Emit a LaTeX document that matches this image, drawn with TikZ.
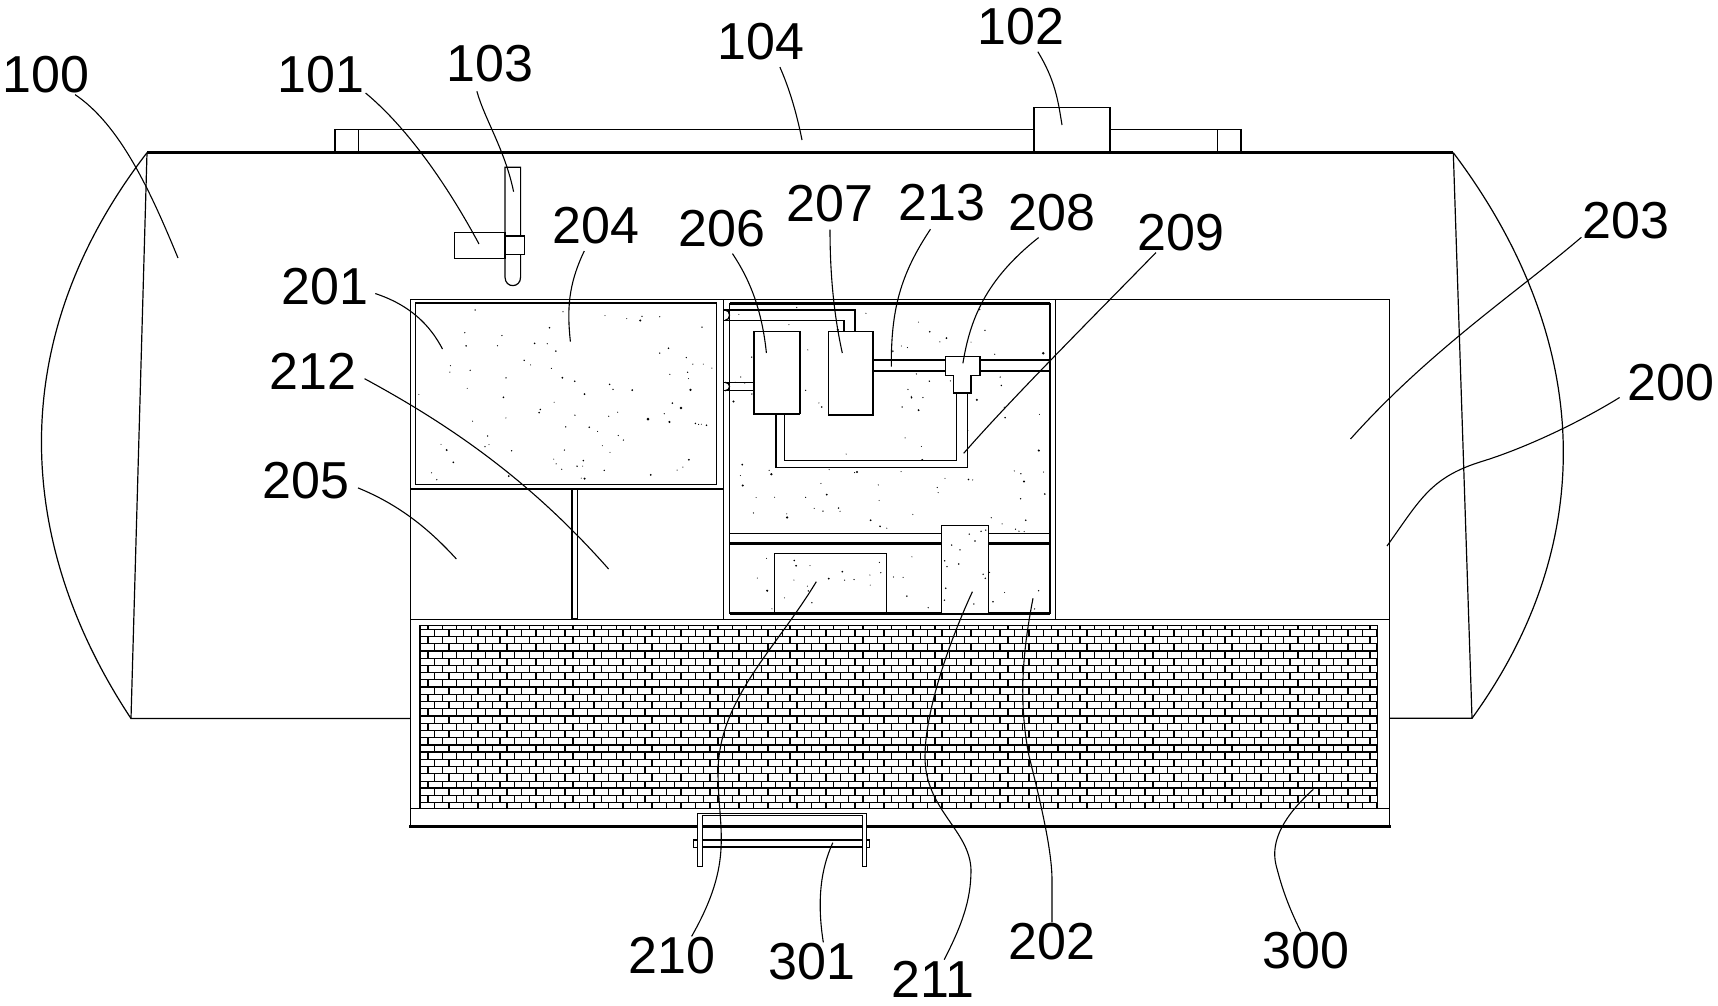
\documentclass[tikz,border=0pt]{standalone}
\usepackage{fontspec}
\setmainfont{Liberation Sans}
\tikzset{
  partline/.style={line width=1.2pt},
  heavyline/.style={line width=2.6pt},
  brickline/.style={line width=1.05pt},
  whitebox/.style={partline,fill=white},
  leader/.style={line width=1.1pt},
  numlabel/.style={inner sep=1pt,font=\fontsize{52}{52}\selectfont},
  speck/.style={fill=black}
}
\begin{document}
\begin{tikzpicture}[x=1pt,y=-1pt]
   \useasboundingbox (0,0) rectangle (1718,1006);
   % Tank with domed ends
   \draw [heavyline] (147,152.7) -- (1453.3,152.7);
   \draw [partline] (147,152.7) -- (131,718.5) -- (410.4,718.5);
   \draw [partline] (1453.3,152.7) -- (1472,718.3) -- (1389.3,718.3);
   \draw [partline] (147,152.7) .. controls (5,337) and (13,540) .. (131,718.5);
   \draw [partline] (1453.3,152.7) .. controls (1592,337) and (1601,540) .. (1472,718.3);
   % Rail on the roof
   \draw [partline] (335,129.3) -- (1034,129.3);
   \draw [partline] (1110,129.3) -- (1241,129.3);
   \draw [heavyline] (335,152.7) -- (335,129.3);
   \draw [partline] (358.3,129.3) -- (358.3,152.7);
   \draw [partline] (1217.7,129.3) -- (1217.7,152.7);
   \draw [line width=1.6pt] (1241,129.3) -- (1241,152.7);
   \draw [partline] (1034,152.7) -- (1034,107.7) -- (1110,107.7) -- (1110,152.7);
   % Dipstick and its head
   \draw [partline] (505,167.3) -- (520.6,167.3) -- (520.6,277) .. controls (520.6,288.5) and (505,288.5) .. (505,277) -- cycle;
   \draw [whitebox] (454.6,232.3) rectangle (505,258.3);
   \draw [whitebox] (505,236) rectangle (524.5,254.7);
   % Speckled fill, before the parts that stay white
   \pgfmathsetseed{4217}
   \foreach \i in {1,...,90} {
      \pgfmathsetmacro{\px}{418+296*rnd}
      \pgfmathsetmacro{\py}{306+176*rnd}
      \pgfmathsetmacro{\pr}{0.5+1.0*rnd*rnd}
      \fill [speck] (\px,\py) circle [radius=\pr];
   }
   \foreach \i in {1,...,115} {
      \pgfmathsetmacro{\px}{732+316*rnd}
      \pgfmathsetmacro{\py}{306+226*rnd}
      \pgfmathsetmacro{\pr}{0.5+1.0*rnd*rnd}
      \fill [speck] (\px,\py) circle [radius=\pr];
   }
   \foreach \i in {1,...,32} {
      \pgfmathsetmacro{\px}{732+316*rnd}
      \pgfmathsetmacro{\py}{546+65*rnd}
      \pgfmathsetmacro{\pr}{0.5+0.7*rnd*rnd}
      \fill [speck] (\px,\py) circle [radius=\pr];
   }
   % Compartment walls
   \draw [partline] (410.4,299.3) -- (1389.3,299.3) -- (1389.3,826.7);
   \draw [partline] (410.4,299.3) -- (410.4,826.7);
   \draw [partline] (723.4,299.3) -- (723.4,619.3);
   \draw [partline] (1055.7,299.3) -- (1055.7,619.3);
   \draw [partline] (410.4,619.3) -- (1389.3,619.3);
   \draw [partline] (410.4,489) -- (723.4,489);
   \draw [partline] (410.4,808.4) -- (1389.3,808.4);
   \draw [heavyline] (409.2,826.7) -- (1390.6,826.7);
   % Upper tank, left
   \draw [partline] (415.6,302.7) rectangle (716.6,484.7);
   \draw [line width=2pt] (415.6,302.7) -- (716.6,302.7);
   \draw [partline] (571.7,489) rectangle (577.4,618.7);
   \draw [line width=2pt] (571.7,489) -- (571.7,618.7);
   % Equipment room
   \draw [partline] (729.5,303.7) rectangle (1050,613.3);
   \draw [heavyline] (729.5,303.7) -- (1050,303.7);
   \draw [line width=2pt] (1050,303.7) -- (1050,613.3);
   \draw [heavyline] (729.5,613.3) -- (1050,613.3);
   \draw [partline] (729.5,533.3) -- (1050,533.3);
   \draw [heavyline] (729.5,543.3) -- (1050,543.3);
   % Pipes round the two units
   \filldraw [whitebox] (776,414.3) -- (776,467.3) -- (967.2,467.3) -- (967.2,393) -- (956.4,393) -- (956.4,460.3) -- (784.2,460.3) -- (784.2,414.3) -- cycle;
   \filldraw [whitebox] (873,360) rectangle (1050,371);
   \draw [heavyline] (873,360) -- (1050,360);
   \draw [partline] (723.4,320.3) -- (844.3,320.3);
   \draw [line width=2pt] (844.3,320.3) -- (844.3,331.3);
   \draw [line width=2pt] (723.4,309.7) -- (855.3,309.7) -- (855.3,331.3);
   \draw [partline] (723.4,382.3) -- (754,382.3);
   \draw [partline] (723.4,390.7) -- (754,390.7);
   \draw [partline] (725,310) .. controls (731,310) and (731,320.3) .. (725,320.3);
   \draw [partline] (725,382.3) .. controls (731,382.3) and (731,390.7) .. (725,390.7);
   \filldraw [whitebox] (754,331.3) rectangle (799.7,414.3);
   \draw [line width=2pt] (754,331.3) -- (754,414.3);
   \draw [line width=2pt] (799.7,331.3) -- (799.7,414.3);
   \draw [line width=2pt] (754,414.3) -- (799.7,414.3);
   \filldraw [whitebox] (828.4,331.3) rectangle (873,415);
   \draw [heavyline] (828.4,415) -- (873,415);
   \filldraw [whitebox] (945.5,356.3) -- (980,356.3) -- (980,375.3) -- (971,375.3) -- (971,393) -- (953.3,393) -- (953.3,375.3) -- (945.5,375.3) -- cycle;
   \draw [heavyline] (953.3,393) -- (971,393);
   % Lower units
   \draw [partline] (774.2,553.3) rectangle (886.6,612.3);
   \filldraw [whitebox] (941.2,525.3) rectangle (988.5,613.3);
   \pgfmathsetseed{905}
   \foreach \i in {1,...,14} {
      \pgfmathsetmacro{\px}{943+43*rnd}
      \pgfmathsetmacro{\py}{528+82*rnd}
      \fill [speck] (\px,\py) circle [radius=0.8];
   }
   % Brick lining
   \draw [partline] (420,625.3) rectangle (1377.7,808.4);
   \foreach \k in {0,...,24} {
      \draw [brickline] (420,{629.3+7.23*\k}) -- (1377.7,{629.3+7.23*\k});
   }
   \foreach \k in {3,8,12,17,22} {
      \draw [line width=1.8pt] (420,{629.3+7.23*\k}) -- (1377.7,{629.3+7.23*\k});
   }
   \foreach \k in {0,2,...,24} {
      \foreach \c in {0,...,65} {
         \pgfmathsetmacro{\bx}{434.5+14.5*\c}
         \pgfmathsetmacro{\bw}{ifthenelse(mod(\c,2)==0,1.9,1.05)}
         \draw [line width=\bw pt] (\bx,{629.3+7.23*\k}) -- (\bx,{min(808.4,629.3+7.23*(\k+1))});
      }
   }
   \foreach \k in {-1,1,...,23} {
      \foreach \c in {0,...,65} {
         \pgfmathsetmacro{\bx}{427.7+14.5*\c}
         \pgfmathsetmacro{\bw}{ifthenelse(mod(\c,5)==0,1.9,1.05)}
         \draw [line width=\bw pt] (\bx,{max(625.3,629.3+7.23*\k)}) -- (\bx,{629.3+7.23*(\k+1)});
      }
   }
   % Handle under the floor
   \draw [whitebox] (697.5,813.3) -- (866.6,813.3) -- (866.6,866.3) -- (862.3,866.3) -- (862.3,815.5) -- (702.3,815.5) -- (702.3,866.3) -- (697.5,866.3) -- cycle;
   \draw [heavyline] (702.3,840) -- (862.3,840);
   \draw [heavyline] (702.3,847) -- (862.3,847);
   \draw [partline] (697.5,840) -- (693.6,840) -- (693.6,847.3) -- (697.5,847.3);
   \draw [partline] (866.6,840) -- (869.8,840) -- (869.8,847.3) -- (866.6,847.3);
   % Reference numbers
   \node [numlabel] (l100) at (46,75) {100};
   \node [numlabel] (l101) at (321,75) {101};
   \node [numlabel] (l103) at (490,64) {103};
   \node [numlabel] (l104) at (761,42) {104};
   \node [numlabel] (l102) at (1021,27) {102};
   \node [numlabel] (l204) at (596,226) {204};
   \node [numlabel] (l206) at (722,229) {206};
   \node [numlabel] (l207) at (830,204) {207};
   \node [numlabel] (l213) at (942,203) {213};
   \node [numlabel] (l208) at (1052,213) {208};
   \node [numlabel] (l209) at (1181,233) {209};
   \node [numlabel] (l203) at (1626,221) {203};
   \node [numlabel] (l200) at (1671,383) {200};
   \node [numlabel] (l201) at (325,287) {201};
   \node [numlabel] (l212) at (313,371) {212};
   \node [numlabel] (l205) at (306,481) {205};
   \node [numlabel] (l210) at (672,956) {210};
   \node [numlabel] (l301) at (812,962) {301};
   \node [numlabel] (l211) at (933,979) {211};
   \node [numlabel] (l202) at (1052,942) {202};
   \node [numlabel] (l300) at (1306,951) {300};
   % Leader ends
   \coordinate (e100) at (178,258);
   \coordinate (e101) at (479,244);
   \coordinate (e103) at (513.6,191.7);
   \coordinate (e104) at (802,140);
   \coordinate (e102) at (1062,125);
   \coordinate (e204) at (570.4,341.7);
   \coordinate (e206) at (766.4,353);
   \coordinate (e207) at (842.3,353);
   \coordinate (e213) at (891.3,366.7);
   \coordinate (e208) at (962.9,363.3);
   \coordinate (e209) at (963.7,453.3);
   \coordinate (e203) at (1350.5,439);
   \coordinate (e200) at (1387,546);
   \coordinate (e201) at (442.5,349);
   \coordinate (e212) at (608.6,569);
   \coordinate (e205) at (456.4,559);
   \coordinate (e210) at (816.3,581.7);
   \coordinate (e301) at (832.8,842.7);
   \coordinate (e211) at (972.4,591.7);
   \coordinate (e202) at (1033,598.3);
   \coordinate (e300) at (1313.3,789.3);
   % Leaders
   \draw [leader] (l100.-34) .. controls (120,125) and (150,190) .. (e100);
   \draw [leader] (l101.-22) .. controls (410,130) and (450,190) .. (e101);
   \draw [leader,shorten <=8pt] (l103.-128) .. controls (485,120) and (505,150) .. (e103);
   \draw [leader,shorten <=6pt] (l104.-50) .. controls (790,90) and (797,115) .. (e104);
   \draw [leader,shorten <=6pt] (l102.-55) .. controls (1055,80) and (1058,100) .. (e102);
   \draw [leader,shorten <=6pt] (l204.-115) .. controls (568,285) and (567,310) .. (e204);
   \draw [leader,shorten <=6pt] (l206.-70) .. controls (750,280) and (762,310) .. (e206);
   \draw [leader,shorten <=6pt] (l207) .. controls (830,280) and (835,320) .. (e207);
   \draw [leader,shorten <=8pt] (l213.-110) .. controls (900,275) and (891,310) .. (e213);
   \draw [leader,shorten <=8pt] (l208.-110) .. controls (985,280) and (970,320) .. (e208);
   \draw [leader] (l209.-142) .. controls (1100,310) and (1010,400) .. (e209);
   \draw [leader] (l203.-160) .. controls (1520,290) and (1430,350) .. (e203);
   \draw [leader,shorten <=8pt] (l200.-167) .. controls (1575,425) and (1520,450) .. (1480,462) .. controls (1430,478) and (1420,500) .. (e200);
   \draw [leader,shorten <=6pt] (l201.-6) .. controls (410,305) and (430,325) .. (e201);
   \draw [leader,shorten <=8pt] (l212.-5) .. controls (450,425) and (530,480) .. (e212);
   \draw [leader,shorten <=8pt] (l205.-5) .. controls (400,505) and (430,530) .. (e205);
   \draw [leader] (e210) .. controls (775,650) and (718,700) .. (718,773) .. controls (718,830) and (735,860) .. (l210.45);
   \draw [leader] (e301) .. controls (825,860) and (815,890) .. (l301.60);
   \draw [leader] (e211) .. controls (950,640) and (925,710) .. (925,757) .. controls (925,810) and (970,830) .. (971,870) .. controls (971,900) and (962,925) .. (l211.60);
   \draw [leader] (e202) .. controls (1023,650) and (1018,700) .. (1029,756) .. controls (1040,800) and (1052,850) .. (1052,880) -- (l202.north);
   \draw [leader] (e300) .. controls (1285,815) and (1270,840) .. (1276,865) .. controls (1280,880) and (1285,900) .. (l300.105);
\end{tikzpicture}
\end{document}
